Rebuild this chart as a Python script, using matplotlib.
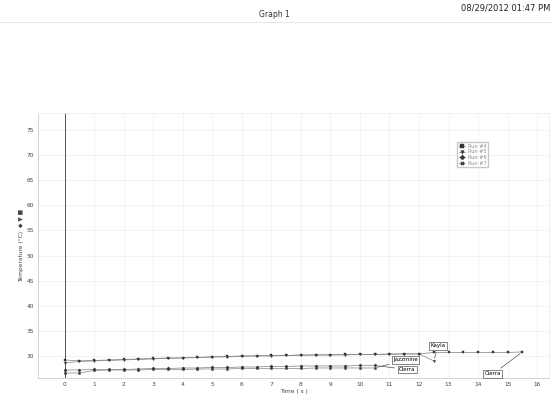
import matplotlib
matplotlib.use("Agg")
import matplotlib.pyplot as plt
from matplotlib.lines import Line2D

# Temperature runs (time in s, temperature in °C)
time_run4 = [0, 0.5, 1, 1.5, 2, 2.5, 3, 3.5, 4, 4.5, 5, 5.5, 6, 6.5, 7, 7.5,
             8, 8.5, 9, 9.5, 10, 10.5, 11, 11.5, 12, 12.5, 13, 13.5, 14, 14.5, 15, 15.5]
temp_run4 = [29.2, 29.0, 29.1, 29.2, 29.3, 29.4, 29.5, 29.6, 29.6, 29.7, 29.8, 29.9,
             30.0, 30.0, 30.1, 30.1, 30.2, 30.2, 30.2, 30.3, 30.3, 30.3, 30.4, 30.4,
             30.4, 30.7, 30.7, 30.7, 30.7, 30.7, 30.7, 30.8]

time_run5 = [0, 0.5, 1, 1.5, 2, 2.5, 3, 3.5, 4, 4.5, 5, 5.5, 6, 6.5, 7, 7.5,
             8, 8.5, 9, 9.5, 10, 10.5, 11, 11.5, 12, 12.5]
temp_run5 = [28.6, 28.9, 29.0, 29.1, 29.2, 29.3, 29.4, 29.5, 29.6, 29.7, 29.8, 29.8,
             29.9, 30.0, 30.0, 30.1, 30.1, 30.2, 30.2, 30.2, 30.3, 30.3, 30.3, 30.4,
             30.4, 29.0]

time_run6 = [0, 0.5, 1, 1.5, 2, 2.5, 3, 3.5, 4, 4.5, 5, 5.5, 6, 6.5, 7, 7.5,
             8, 8.5, 9, 9.5, 10, 10.5]
temp_run6 = [27.2, 27.2, 27.3, 27.3, 27.3, 27.4, 27.5, 27.5, 27.6, 27.6, 27.7, 27.7,
             27.8, 27.8, 27.9, 27.9, 28.0, 28.0, 28.0, 28.0, 28.1, 28.1]

time_run7 = [0, 0.5, 1, 1.5, 2, 2.5, 3, 3.5, 4, 4.5, 5, 5.5, 6, 6.5, 7, 7.5,
             8, 8.5, 9, 9.5, 10, 10.5]
temp_run7 = [26.6, 26.6, 27.1, 27.2, 27.2, 27.2, 27.3, 27.3, 27.3, 27.4, 27.4, 27.4,
             27.5, 27.5, 27.5, 27.5, 27.5, 27.6, 27.6, 27.6, 27.6, 27.6]

run_names = ["Run #4", "Run #5", "Run #6", "Run #7"]
run_markers = ["s", "v", "D", "X"]

x_ticks = list(range(0, 17))
y_ticks = [30, 35, 40, 45, 50, 55, 60, 65, 70, 75]

fig = plt.figure(figsize=(5.53, 3.99), dpi=100)
fig.patch.set_facecolor("white")

# page header
fig.text(0.497, 0.963, "Graph 1", ha="center", va="center", fontsize=5.5, color="#333333")
fig.text(0.995, 0.980, "08/29/2012 01:47 PM", ha="right", va="center", fontsize=6, color="#222222")
fig.add_artist(Line2D([0.0, 1.0], [0.945, 0.945], color="#e2e2e2", lw=0.6))

ax = fig.add_axes([0.0687, 0.0526, 0.924, 0.664])
ax.set_xlim(-0.9, 16.4)
ax.set_ylim(25.6, 78.4)
ax.set_xticks(x_ticks)
ax.set_yticks(y_ticks)
ax.tick_params(length=0, labelsize=4.2, labelcolor="#444444", pad=3)
ax.grid(True, color="#efefef", lw=0.5)
for side, s in ax.spines.items():
    s.set_linewidth(0.6)
    s.set_color("#cccccc" if side in ("left", "bottom") else "#ececec")
ax.axvline(0, color="#555555", lw=0.7)

runs = [(time_run4, temp_run4), (time_run5, temp_run5),
        (time_run6, temp_run6), (time_run7, temp_run7)]
for (t, v), name, mk in zip(runs, run_names, run_markers):
    ax.plot(t, v, color="#808080", lw=0.5, marker=mk, ms=1.6,
            mfc="#333333", mec="#333333", mew=0.3, label=name)

leg = ax.legend(loc="upper left", bbox_to_anchor=(0.815, 0.9), fontsize=3.6,
                frameon=True, fancybox=False, edgecolor="#bbbbbb",
                handlelength=1.2, handletextpad=0.6, borderpad=0.35,
                labelspacing=0.12, markerscale=1.6)
for txt in leg.get_texts():
    txt.set_color("#888888")

ax.set_xlabel("Time ( s )", fontsize=4.2, color="#444444", labelpad=1)
ax.set_ylabel("Temperature (°C)  ◆ ▼ ■", fontsize=4.2, color="#444444", labelpad=2)

box = dict(boxstyle="square,pad=0.25", fc="white", ec="#555555", lw=0.5)
arrow = dict(arrowstyle="-", color="#555555", lw=0.5)
ax.annotate("Jazzmine", xy=(time_run7[-1], temp_run7[-1]), xytext=(11.55, 29.2),
            fontsize=4, ha="center", va="center", bbox=box, arrowprops=arrow)
ax.annotate("Cierra", xy=(time_run6[-1], temp_run6[-1]), xytext=(11.6, 27.3),
            fontsize=4, ha="center", va="center", bbox=box, arrowprops=arrow)
ax.annotate("Kayla", xy=(time_run5[-1], temp_run5[-1]), xytext=(12.65, 32.0),
            fontsize=4, ha="center", va="center", bbox=box, arrowprops=arrow)
ax.annotate("Cierra", xy=(time_run4[-1], temp_run4[-1]), xytext=(14.5, 26.4),
            fontsize=4, ha="center", va="center", bbox=box, arrowprops=arrow)

fig.savefig("out.png", dpi=100, facecolor="white")
